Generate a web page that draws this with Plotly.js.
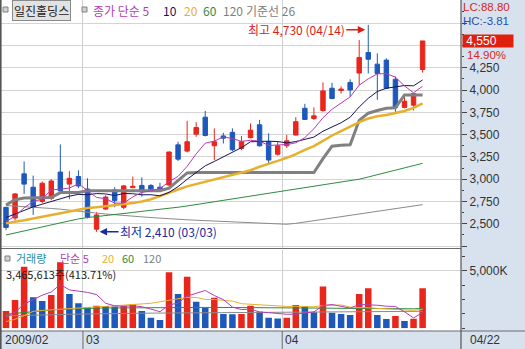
<!DOCTYPE html>
<html><head><meta charset="utf-8">
<script src="https://cdn.plot.ly/plotly-3.0.1.min.js"></script>
<style>html,body{margin:0;padding:0;background:#fff;overflow:hidden}#c{width:525px;height:349px}</style>
</head><body><div id="c"></div><script>
// ---- data ----
const dates = ['02/17','02/18','02/19','02/20','02/23','02/24','02/25','02/26','02/27',
 '03/02','03/03','03/04','03/05','03/06','03/09','03/10','03/11','03/12','03/13','03/16','03/17','03/18','03/19','03/20','03/23','03/24','03/25','03/26','03/27','03/30','03/31',
 '04/01','04/02','04/03','04/06','04/07','04/08','04/09','04/10','04/13','04/14','04/15','04/16','04/17','04/20','04/21','04/22'];
const openP  = [2685,2565,3060,2910,2750,2785,3080,2945,3030,2890,2440,2665,2880,2685,2905,2930,2930,2910,2935,3385,3315,3505,3695,3375,3485,3525,3345,3465,3610,3420,3280,3375,3495,3795,3680,3770,4020,3995,4085,4190,4420,4290,4335,4120,3805,3830,4230];
const highP  = [2690,2845,3200,3040,2975,3000,3390,3090,3100,3010,2630,2820,2910,2935,3030,3020,2945,2960,3310,3420,3655,3640,3765,3570,3520,3570,3485,3625,3665,3515,3420,3495,3695,3845,3805,4085,4080,4040,4120,4560,4730,4410,4355,4150,3925,3965,4550];
const lowP   = [2430,2535,2835,2600,2730,2765,2850,2775,2900,2560,2410,2655,2685,2665,2900,2805,2870,2860,2925,3205,3300,3475,3480,3215,3400,3315,3325,3460,3365,3180,3265,3350,3490,3665,3665,3755,3895,3960,3925,4055,4185,3890,4010,3740,3795,3770,4195];
const closeP = [2460,2835,2945,2690,2955,2980,2870,3010,2925,2575,2600,2800,2760,2925,2920,2860,2880,2890,3305,3225,3420,3580,3490,3420,3460,3330,3420,3550,3375,3215,3375,3430,3645,3670,3710,3990,3905,4010,4000,4365,4345,4185,4020,3805,3875,3960,4550];
const ma5   = [2525,2585,2680,2750,2777,2881,2888,2901,2948,2872,2796,2782,2732,2732,2801,2853,2869,2895,2971,3032,3144,3284,3404,3427,3474,3456,3424,3436,3427,3378,3387,3389,3408,3467,3566,3689,3784,3857,3923,4054,4125,4181,4183,4144,4046,3969,4042];
const ma10  = [2570,2610,2650,2690,2720,2750,2785,2810,2830,2825,2839,2835,2817,2840,2837,2825,2826,2814,2852,2917,2999,3077,3150,3199,3253,3300,3354,3420,3427,3426,3422,3407,3422,3447,3472,3538,3587,3633,3695,3810,3907,3983,4020,4034,4050,4047,4112];
const ma20  = [2505,2520,2540,2560,2580,2600,2620,2640,2660,2678,2685,2695,2705,2718,2732,2750,2775,2810,2850,2885,2920,2945,2970,2995,3020,3045,3070,3100,3140,3170,3205,3240,3280,3330,3370,3430,3490,3540,3590,3640,3680,3705,3720,3740,3765,3800,3850];
const ma60  = [2375,2398,2420,2442,2465,2487,2510,2532,2555,2570,2580,2592,2603,2615,2627,2640,2650,2662,2675,2686,2700,2715,2730,2745,2760,2778,2794,2810,2826,2842,2858,2874,2890,2906,2922,2938,2955,2970,2985,3000,3025,3050,3075,3100,3125,3150,3178];
const ma120 = [2705,2700,2695,2688,2680,2672,2664,2655,2645,2630,2620,2610,2600,2592,2585,2578,2570,2562,2556,2550,2545,2540,2535,2530,2525,2520,2515,2510,2505,2500,2497,2495,2505,2520,2535,2550,2565,2580,2595,2610,2625,2640,2655,2670,2685,2700,2715];
const baseLine26 = [2710,2770,2790,2790,2790,2795,2850,2850,2850,2870,2870,2870,2870,2870,2870,2870,2870,2870,2900,2990,3070,3075,3075,3075,3075,3075,3075,3075,3075,3075,3075,3075,3075,3075,3075,3230,3370,3380,3385,3660,3740,3770,3795,3800,3944,3944,3944];
const volume = [1500,2455,5340,2690,2365,2890,5720,2975,2165,1820,1955,1935,1880,1955,2080,1500,925,725,4855,2975,4475,2310,1790,2650,1240,1210,1240,1955,1440,925,840,925,2020,1935,1385,3615,1355,1240,1155,2975,3470,1155,810,1070,630,838,3466];
const vma5   = [1000,1400,2100,2500,2870,3148,3801,3328,3223,3114,2927,2170,1951,1909,1961,1870,1668,1437,2017,2196,2791,3068,3281,2840,2493,1840,1626,1659,1417,1354,1280,1217,1230,1329,1421,1976,2062,1906,1750,2068,2039,1999,1913,1896,1427,901,1363];
const vma20  = [580,780,1100,1470,1550,1610,1675,1720,1770,1815,1860,1900,1960,2020,2080,2130,2170,2300,2420,2535,2684,2677,2499,2497,2441,2357,2133,2082,2046,2001,1945,1895,1902,1901,1866,1972,1993,2019,1834,1834,1784,1726,1677,1598,1568,1549,1660];
const vma60  = [1220,1300,1400,1480,1540,1590,1640,1680,1710,1730,1750,1760,1770,1780,1790,1790,1780,1770,1790,1800,1820,1820,1810,1810,1800,1790,1780,1780,1770,1760,1750,1740,1740,1740,1730,1750,1740,1730,1720,1730,1740,1730,1720,1710,1700,1690,1720];
const vma120 = [1080,1090,1110,1130,1150,1170,1190,1210,1230,1250,1260,1270,1280,1290,1300,1310,1315,1320,1335,1345,1360,1370,1375,1380,1385,1390,1395,1400,1400,1405,1405,1410,1415,1420,1420,1430,1435,1440,1440,1450,1460,1460,1465,1465,1465,1465,1475];
const priceTicks = [2500,2750,3000,3250,3500,3750,4000,4250];
const monthLabels = [{i:-0.45,t:'2009/02'},{i:8.5,t:'03'},{i:30.5,t:'04'}];
const lastDate = '04/22';
const stockName = '일진홀딩스';
const priceLegend = ['종가 단순 5','10','20','60','120','기준선 26'];
const volLegend = ['거래량','단순 5','20','60','120'];
const lastPrice = 4550, pctChange = '14.90%', lastVolText = '3,465,613주(413.71%)';

// ---- build ----
const idx = dates.map((d,i)=>i);
const RED='#e8261c', BLUE='#1f58bb';
const W=525,H=349;
const px=x=>x/W, py=y=>1-y/H;
const volColors = volume.map((v,i)=> (i===0||v>=volume[i-1])?RED:BLUE);
const fmt=n=>n.toLocaleString('en-US');

const line=(y,color,width,ax)=>({type:'scatter',mode:'lines',x:idx,y:y,xaxis:'x',yaxis:ax,
  line:{color:color,width:width},hoverinfo:'skip',showlegend:false});

const C5='#b43cb4',C10='#14145a',C20='#e6b02e',C60='#2e8b3e',C120='#808080';
const traces=[
  line(ma120,'#8a8a8a',1,'y'),
  line(ma60,C60,1,'y'),
  line(baseLine26,'#808080',3,'y'),
  line(ma20,C20,2.5,'y'),
  line(ma10,C10,1,'y'),
  line(ma5,C5,1,'y'),
  {type:'candlestick',x:idx,open:openP,high:highP,low:lowP,close:closeP,xaxis:'x',yaxis:'y',
   increasing:{line:{color:RED,width:1},fillcolor:RED},
   decreasing:{line:{color:BLUE,width:1},fillcolor:BLUE},
   whiskerwidth:0,hoverinfo:'skip',showlegend:false},
  {type:'bar',x:idx,y:volume,xaxis:'x',yaxis:'y2',marker:{color:volColors,line:{width:0}},width:0.72,hoverinfo:'skip',showlegend:false},
  line(vma120,'#8a8a8a',1,'y2'),
  line(vma60,C60,1,'y2'),
  line(vma20,C20,1,'y2'),
  line(vma5,C5,1,'y2')
];

const xr=[-0.662,50.24];
const priceRange=[2228.8,5008.9];
const volRange=[0,6789];
const FONT='Noto Sans CJK KR, Liberation Sans, sans-serif';
const NUMF='Liberation Sans, Arial, sans-serif';

const shapes=[
  {type:'rect',xref:'paper',yref:'paper',x0:px(461),x1:1,y0:0,y1:1,fillcolor:'#d8e2ee',line:{width:0},layer:'below'},
  {type:'rect',xref:'paper',yref:'paper',x0:0,x1:1,y0:0,y1:py(331),fillcolor:'#d8e2ee',line:{width:0},layer:'below'},
  {type:'line',xref:'paper',yref:'paper',x0:0,x1:px(461),y0:py(248.5),y1:py(248.5),line:{color:'#6b6b6b',width:1.2}},
  {type:'line',xref:'paper',yref:'paper',x0:0,x1:1,y0:py(331),y1:py(331),line:{color:'#6b6b6b',width:1.2}},
  {type:'line',xref:'paper',yref:'paper',x0:px(461),x1:px(461),y0:0,y1:1,line:{color:'#555',width:1.2}},
  {type:'line',xref:'paper',yref:'paper',x0:px(0.8),x1:px(0.8),y0:0,y1:1,line:{color:'#555',width:1.6}},
  {type:'rect',xref:'paper',yref:'paper',x0:px(3),x1:px(8),y0:py(12),y1:py(7),fillcolor:'#d0d0d0',line:{color:'#808080',width:1}},
  {type:'rect',xref:'paper',yref:'paper',x0:px(82),x1:px(87),y0:py(12),y1:py(7),fillcolor:'#d0d0d0',line:{color:'#808080',width:1}},
  {type:'rect',xref:'paper',yref:'paper',x0:px(5),x1:px(10),y0:py(261),y1:py(256),fillcolor:'#d0d0d0',line:{color:'#808080',width:1}}
];
monthLabels.slice(1).forEach(m=>{
  shapes.push({type:'line',xref:'x',yref:'paper',x0:m.i,x1:m.i,y0:0,y1:py(331),line:{color:'#6b6b6b',width:1}});
});

const annotations=[
  {xref:'paper',yref:'paper',x:px(12),y:py(10),xanchor:'left',yanchor:'middle',showarrow:false,
   text:stockName,font:{family:FONT,size:12,color:'#222'},bgcolor:'#e2e2e2',bordercolor:'#8a8a8a',borderwidth:1,borderpad:1},
  {xref:'paper',yref:'paper',x:px(5),y:py(273.5),xanchor:'left',yanchor:'middle',showarrow:false,borderpad:0,
   text:lastVolText,font:{family:FONT,size:11,color:'#222'}},
  {xref:'x',yref:'y',x:40,y:4675,text:'최고 '+fmt(4730)+' ('+dates[40]+')',showarrow:true,ax:-72,ay:0,
   arrowcolor:'#d8201a',arrowwidth:1.5,arrowhead:2,arrowsize:1,standoff:3,font:{family:FONT,size:12,color:'#d8201a'}},
  {xref:'x',yref:'y',x:10,y:2410,text:'최저 '+fmt(2410)+' ('+dates[10]+')',showarrow:true,ax:72,ay:0,
   arrowcolor:'#1a2aa0',arrowwidth:1.5,arrowhead:2,arrowsize:1,standoff:3,font:{family:FONT,size:12,color:'#1a2aa0'}},
  {xref:'paper',yref:'paper',x:px(462),y:py(7),xanchor:'left',yanchor:'middle',showarrow:false,borderpad:0,text:'LC:88.80',font:{family:NUMF,size:11.5,color:'#d02828'}},
  {xref:'paper',yref:'paper',x:px(462),y:py(21.5),xanchor:'left',yanchor:'middle',showarrow:false,borderpad:0,text:'HC:-3.81',font:{family:NUMF,size:11.5,color:'#2850a8'}},
  {xref:'paper',yref:'y',x:px(462),y:lastPrice,xanchor:'left',yanchor:'middle',showarrow:false,text:' '+fmt(lastPrice),
   font:{family:NUMF,size:12,color:'#ffffff'},bgcolor:'#e0200f',width:50,align:'left',borderpad:0,height:12},
  {xref:'paper',yref:'paper',x:px(466),y:py(55),xanchor:'left',yanchor:'middle',showarrow:false,borderpad:0,text:pctChange,font:{family:NUMF,size:11.5,color:'#d02828'}},
  {xref:'paper',yref:'paper',x:px(468),y:py(340),xanchor:'left',yanchor:'middle',showarrow:false,text:lastDate,font:{family:NUMF,size:12,color:'#333'}}
];
const pLegX=[92,162,183,202,222,245], pLegC=[C5,C10,C20,C60,C120,C120];
priceLegend.forEach((t,k)=>annotations.push({xref:'paper',yref:'paper',x:px(pLegX[k]),y:py(10),xanchor:'left',yanchor:'middle',
  showarrow:false,borderpad:0,text:t,font:{family:FONT,size:12,color:pLegC[k]}}));
const vLegX=[15,59,101,121,142], vLegC=['#2a8fa6',C5,C20,C60,C120];
volLegend.forEach((t,k)=>annotations.push({xref:'paper',yref:'paper',x:px(vLegX[k]),y:py(258),xanchor:'left',yanchor:'middle',
  showarrow:false,borderpad:0,text:t,font:{family:FONT,size:11,color:vLegC[k]}}));
monthLabels.forEach(m=>{
  annotations.push({xref:'x',yref:'paper',x:m.i,y:py(340),xanchor:'left',yanchor:'middle',showarrow:false,xshift:1,
    text:m.t,font:{family:NUMF,size:12,color:'#333'}});
});

const layout={
  width:W,height:H,margin:{l:0,r:0,t:0,b:0},
  paper_bgcolor:'#ffffff',plot_bgcolor:'#ffffff',showlegend:false,
  xaxis:{domain:[0,px(461)],range:xr,anchor:'y2',showticklabels:false,ticks:'',
    tickmode:'array',tickvals:monthLabels.slice(1).map(m=>m.i),showgrid:true,gridcolor:'#cfcfcf',gridwidth:1,
    zeroline:false,showline:false,rangeslider:{visible:false},fixedrange:true},
  yaxis:{domain:[py(248),1],range:priceRange,side:'right',anchor:'x',
    tickmode:'array',tickvals:[2250,2500,2750,3000,3250,3500,3750,4000,4250,4500,4750],
    ticktext:['',...priceTicks.map(fmt),'',''],
    ticks:'outside',ticklen:5,tickcolor:'#444',tickfont:{family:NUMF,size:12,color:'#333'},
    minor:{tickvals:[2375,2625,2875,3125,3375,3625,3875,4125,4375,4625,4875],ticks:'outside',ticklen:2,tickcolor:'#444',showgrid:false},
    showgrid:true,gridcolor:'#d4d4d4',zeroline:false,showline:false,fixedrange:true},
  yaxis2:{domain:[py(328.3),py(250)],range:volRange,side:'right',anchor:'x',
    tickmode:'array',tickvals:[5000],ticktext:['5,000K'],
    ticks:'outside',ticklen:5,tickcolor:'#444',tickfont:{family:NUMF,size:12,color:'#333'},
    minor:{tickvals:[0,1250,2500,3750,6250],ticks:'outside',ticklen:3,tickcolor:'#444',showgrid:false},
    showgrid:true,gridcolor:'#d4d4d4',zeroline:false,showline:false,fixedrange:true},
  shapes:shapes,annotations:annotations,bargap:0.28
};
Plotly.newPlot('c',traces,layout,{staticPlot:true,displayModeBar:false});
</script></body></html>
